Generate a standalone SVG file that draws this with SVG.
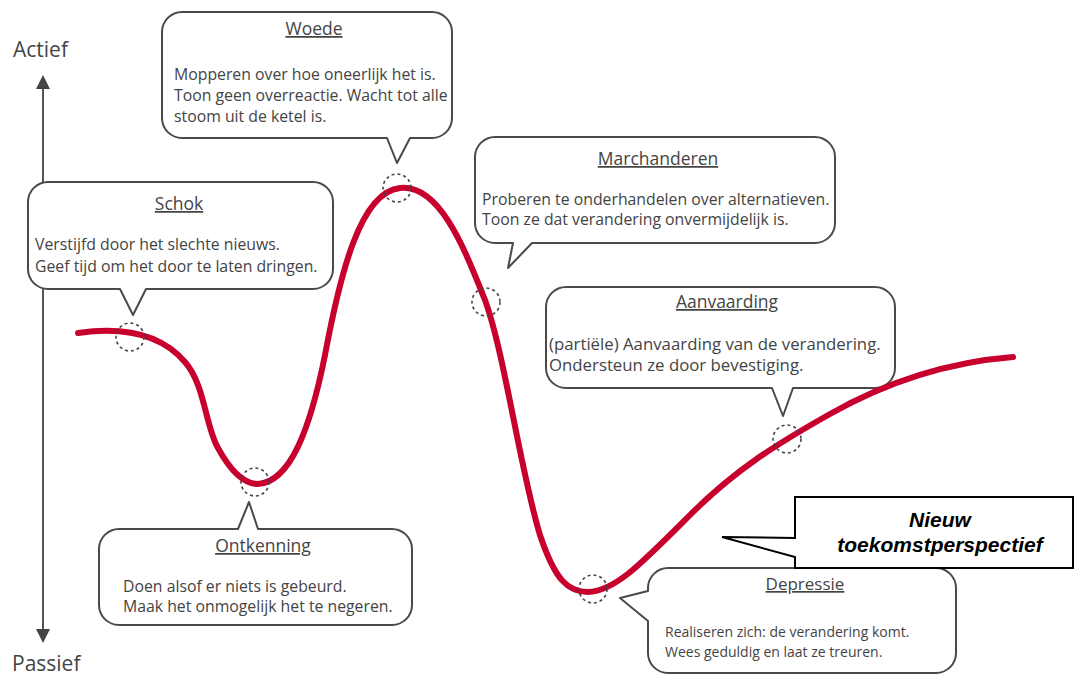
<svg xmlns="http://www.w3.org/2000/svg" width="1074" height="675" viewBox="0 0 1074 675">
<defs>
<style>
.bub{fill:#fff;stroke:#4a4a4a;stroke-width:2;stroke-linejoin:round}
.ttl{font-family:"Open Sans",sans-serif;font-size:17.5px;fill:#444;text-anchor:middle;text-decoration:underline}
.txt{font-family:"Open Sans",sans-serif;font-size:15.8px;fill:#444}
.ax{font-family:"Open Sans",sans-serif;font-size:21px;fill:#444}
.dot{fill:none;stroke:#444;stroke-width:1.6;stroke-dasharray:3 3}
.curve{fill:none;stroke:#c8002e;stroke-width:6;stroke-linecap:round}
.call{fill:#fff;stroke:#000;stroke-width:2}
.ctx{font-family:"Liberation Sans",Arial,sans-serif;font-size:21px;font-weight:bold;font-style:italic;fill:#000;text-anchor:middle}
</style>
</defs>
<g id="axis">
<line x1="43" y1="86" x2="43" y2="632" stroke="#555" stroke-width="2"/>
<polygon points="43,75 36,89 50,89" fill="#444"/>
<polygon points="43,643 36,629 50,629" fill="#444"/>
<text class="ax" x="13" y="57">Actief</text>
<text class="ax" x="12" y="671">Passief</text>
</g>
<g id="woede">
<path class="bub" d="M182,12 H432 A20,20 0 0 1 452,32 V118 A20,20 0 0 1 432,138 H410 L397,163 L387,138 H182 A20,20 0 0 1 162,118 V32 A20,20 0 0 1 182,12 Z"/>
<text class="ttl" x="314" y="35">Woede</text>
<text class="txt" x="174" y="80">Mopperen over hoe oneerlijk het is.</text>
<text class="txt" x="174" y="101">Toon geen overreactie. Wacht tot alle</text>
<text class="txt" x="174" y="122">stoom uit de ketel is.</text>
</g>
<g id="schok">
<path class="bub" d="M48,182 H313 A20,20 0 0 1 333,202 V269 A20,20 0 0 1 313,289 H146 L133,315 L120,289 H48 A20,20 0 0 1 28,269 V202 A20,20 0 0 1 48,182 Z"/>
<text class="ttl" x="179" y="210">Schok</text>
<text class="txt" x="35" y="250">Verstijfd door het slechte nieuws.</text>
<text class="txt" x="35" y="272">Geef tijd om het door te laten dringen.</text>
</g>
<g id="marchanderen">
<path class="bub" d="M495,137 H815 A20,20 0 0 1 835,157 V223 A20,20 0 0 1 815,243 H532 L508,268 L513,243 H495 A20,20 0 0 1 475,223 V157 A20,20 0 0 1 495,137 Z"/>
<text class="ttl" x="658" y="165">Marchanderen</text>
<text class="txt" x="482" y="205">Proberen te onderhandelen over alternatieven.</text>
<text class="txt" x="482" y="225">Toon ze dat verandering onvermijdelijk is.</text>
</g>
<g id="aanvaarding">
<path class="bub" d="M566,287 H875 A20,20 0 0 1 895,307 V368 A20,20 0 0 1 875,388 H793 L783,416 L772,388 H566 A20,20 0 0 1 546,368 V307 A20,20 0 0 1 566,287 Z"/>
<text class="ttl" x="727" y="308">Aanvaarding</text>
<text class="txt" x="549" y="350" style="font-size:16.8px">(partiële) Aanvaarding van de verandering.</text>
<text class="txt" x="549" y="371" style="font-size:16.8px">Ondersteun ze door bevestiging.</text>
</g>
<g id="ontkenning">
<path class="bub" d="M119,529 H238 L249,502 L258,529 H392 A20,20 0 0 1 412,549 V605 A20,20 0 0 1 392,625 H119 A20,20 0 0 1 99,605 V549 A20,20 0 0 1 119,529 Z"/>
<text class="ttl" x="263" y="552">Ontkenning</text>
<text class="txt" x="123" y="592">Doen alsof er niets is gebeurd.</text>
<text class="txt" x="123" y="612">Maak het onmogelijk het te negeren.</text>
</g>
<g id="depressie">
<path class="bub" d="M668,568 H936 A20,20 0 0 1 956,588 V653 A20,20 0 0 1 936,673 H668 A20,20 0 0 1 648,653 V621 L620,598 L648,591 V588 A20,20 0 0 1 668,568 Z"/>
<text class="ttl" x="805" y="590" style="font-size:17px">Depressie</text>
<text class="txt" x="665" y="637" style="font-size:14px">Realiseren zich: de verandering komt.</text>
<text class="txt" x="665" y="657" style="font-size:14px">Wees geduldig en laat ze treuren.</text>
</g>
<g id="nieuw">
<path class="call" d="M795,497 H1073 V568 H795 V557 L722,537 L795,538 Z"/>
<text class="ctx" x="940" y="527">Nieuw</text>
<text class="ctx" x="940" y="552">toekomstperspectief</text>
</g>
<g id="connectors">
<path class="curve" d="M78,333 C120,327 160,333 185,362 C205,385 205,425 218,448 C230,470 243,484 258,484 C290,482 310,430 325,355 C340,275 360,192 400,188 C440,184 465,250 485,300 C505,355 520,470 540,535 C555,580 568,592 588,592 C615,591 640,565 690,515 C735,470 775,445 830,414 C890,380 950,362 1013,357"/>
<circle class="dot" cx="130" cy="337" r="14"/>
<circle class="dot" cx="255" cy="482" r="14"/>
<circle class="dot" cx="397" cy="188" r="14"/>
<circle class="dot" cx="486" cy="302" r="14"/>
<circle class="dot" cx="593" cy="589" r="14"/>
<circle class="dot" cx="787" cy="439" r="14"/>
</g>
</svg>
